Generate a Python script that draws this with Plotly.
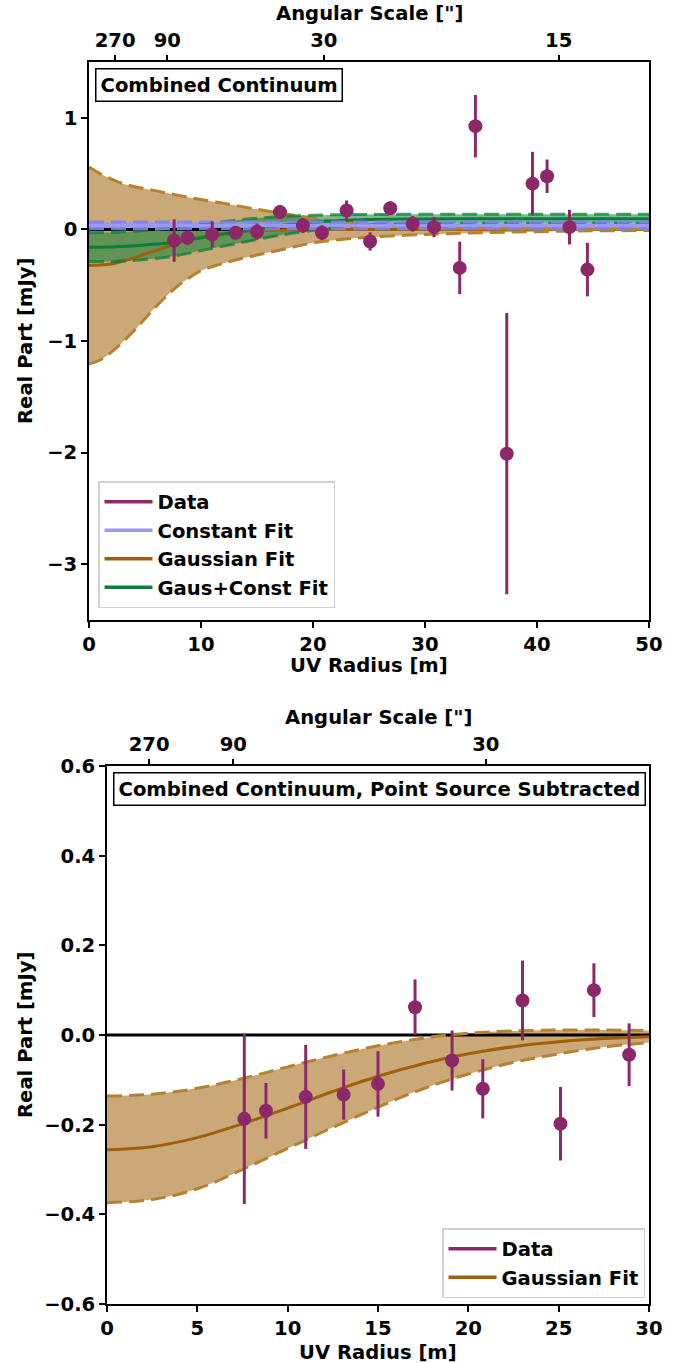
import plotly.graph_objects as go

# ---------------- data ----------------
# Top panel: combined continuum
uv_top = [7.6, 8.8, 11.0, 13.1, 15.0, 17.05, 19.1, 20.8, 23.0, 25.1, 26.9, 28.9,
          30.8, 33.1, 34.5, 37.3, 39.6, 40.9, 42.9, 44.5]
re_top = [-0.10, -0.075, -0.045, -0.03, -0.02, 0.155, 0.035, -0.03, 0.17, -0.108, 0.19, 0.05,
          0.02, -0.345, 0.925, -2.01, 0.41, 0.476, 0.02, -0.36]
err_top = [0.19, 0.062, 0.116, 0.056, 0.073, 0.062, 0.067, 0.066, 0.089, 0.082, 0.06, 0.07,
           0.09, 0.235, 0.28, 1.26, 0.285, 0.15, 0.155, 0.24]

# Constant fit
const_x = [0, 50]
const_mid = [0.036, 0.036]
const_hi = [0.066, 0.066]
const_lo = [0.006, 0.006]

# Gaussian fit (top)
gauss_x = [0, 1, 2, 3, 4, 5, 6, 7, 8, 9, 10, 12.5, 15, 17.5, 20, 22.5, 25, 30, 35, 40, 45, 50]
gauss_mid = [-0.323, -0.32, -0.31, -0.285, -0.255, -0.22, -0.19, -0.155, -0.12, -0.09, -0.07,
             -0.03, -0.011, -0.004, -0.001, 0, 0, 0, 0, 0, 0, 0]
gauss_hi = [0.56, 0.50, 0.45, 0.41, 0.385, 0.365, 0.345, 0.325, 0.305, 0.285, 0.268,
            0.225, 0.18, 0.14, 0.10, 0.07, 0.045, 0.018, 0.008, 0.005, 0.004, 0.003]
gauss_lo = [-1.207, -1.17, -1.10, -1.01, -0.91, -0.80, -0.69, -0.59, -0.50, -0.43, -0.37,
            -0.29, -0.23, -0.175, -0.12, -0.09, -0.07, -0.045, -0.03, -0.02, -0.013, -0.01]

# Gaussian + constant fit
gc_x = [0, 2.5, 5, 7.5, 10, 12.5, 15, 17.5, 20, 22.5, 25, 30, 35, 40, 45, 50]
gc_mid = [-0.16, -0.155, -0.14, -0.115, -0.075, -0.035, 0.005, 0.04, 0.065, 0.08, 0.088,
          0.094, 0.095, 0.095, 0.095, 0.095]
gc_hi = [-0.03, -0.025, -0.01, 0.015, 0.045, 0.075, 0.10, 0.117, 0.127, 0.132, 0.134,
         0.135, 0.135, 0.135, 0.135, 0.135]
gc_lo = [-0.29, -0.285, -0.27, -0.24, -0.19, -0.14, -0.09, -0.045, -0.01, 0.02, 0.038,
         0.052, 0.056, 0.057, 0.057, 0.057]

# Bottom panel: point source subtracted
uv_bot = [7.6, 8.8, 11.0, 13.1, 15.0, 17.05, 19.1, 20.8, 23.0, 25.1, 26.95, 28.9]
re_bot = [-0.187, -0.169, -0.138, -0.133, -0.109, 0.062, -0.057, -0.120, 0.077, -0.198, 0.100, -0.044]
err_bot = [0.19, 0.062, 0.116, 0.056, 0.073, 0.062, 0.067, 0.066, 0.089, 0.082, 0.06, 0.07]

bg_x = [0, 2.5, 5, 7.5, 10, 12.5, 15, 17.5, 20, 22.5, 25, 27.5, 30]
bg_mid = [-0.256, -0.249, -0.229, -0.198, -0.163, -0.126, -0.092, -0.064, -0.042, -0.026, -0.015, -0.008, -0.004]
bg_hi = [-0.136, -0.132, -0.119, -0.097, -0.071, -0.046, -0.024, -0.007, 0.004, 0.009, 0.011, 0.011, 0.010]
bg_lo = [-0.374, -0.367, -0.343, -0.300, -0.253, -0.206, -0.161, -0.120, -0.087, -0.061, -0.042, -0.027, -0.017]

# Angular-scale tick labels (arcsec) and observing wavelength (m)
ang_ticks_top = [270, 90, 30, 15]
ang_ticks_bot = [270, 90, 30]
wavelength_m = 3.05e-3
RAD2ARCSEC = 206265.0

# ---------------- styling ----------------
W, H = 684, 1363
FONT = "DejaVu Sans"
FS = 19.6
C_DATA = "#8c2869"
C_CONST = "#9a9af0"
C_GAUSS = "#a0600a"
C_GAUSS_EDGE = "#b5822f"
F_GAUSS = "rgba(160,96,10,0.55)"
C_GC = "#0b7f3a"
C_GC_EDGE = "rgba(11,127,58,0.75)"
F_GC = "rgba(11,127,58,0.55)"
DASH = "15px,7px"

fig = go.Figure()


def band(x, lo, hi, xa, ya, fill_c, shape="spline"):
    fig.add_trace(go.Scatter(x=x, y=lo, xaxis=xa, yaxis=ya, mode="lines",
                             line=dict(color="rgba(0,0,0,0)", width=0, shape=shape),
                             showlegend=False, hoverinfo="skip"))
    fig.add_trace(go.Scatter(x=x, y=hi, xaxis=xa, yaxis=ya, mode="lines", fill="tonexty",
                             fillcolor=fill_c,
                             line=dict(color="rgba(0,0,0,0)", width=0, shape=shape),
                             showlegend=False, hoverinfo="skip"))


def edges(x, lo, hi, mid, xa, ya, line_c, edge_c, lw=3, shape="spline"):
    fig.add_trace(go.Scatter(x=x, y=mid, xaxis=xa, yaxis=ya, mode="lines",
                             line=dict(color=line_c, width=lw, shape=shape),
                             showlegend=False, hoverinfo="skip"))
    for yy in (lo, hi):
        fig.add_trace(go.Scatter(x=x, y=yy, xaxis=xa, yaxis=ya, mode="lines",
                                 line=dict(color=edge_c, width=lw, dash=DASH, shape=shape),
                                 showlegend=False, hoverinfo="skip"))


# ---- top panel ----
band(gauss_x, gauss_lo, gauss_hi, "x", "y", F_GAUSS)
band(gc_x, gc_lo, gc_hi, "x", "y", F_GC)
band(const_x, const_lo, const_hi, "x", "y", "rgba(150,150,240,0.85)", shape="linear")
fig.add_trace(go.Scatter(x=[0, 50], y=[0, 0], xaxis="x", yaxis="y", mode="lines",
                         line=dict(color="black", width=3), showlegend=False, hoverinfo="skip"))
edges(gauss_x, gauss_lo, gauss_hi, gauss_mid, "x", "y", C_GAUSS, C_GAUSS_EDGE)
edges(gc_x, gc_lo, gc_hi, gc_mid, "x", "y", C_GC, C_GC_EDGE)
edges(const_x, const_lo, const_hi, const_mid, "x", "y", C_CONST, "rgba(130,130,235,0.9)", shape="linear")

fig.add_trace(go.Scatter(x=uv_top, y=re_top, xaxis="x", yaxis="y", mode="markers",
                         marker=dict(color=C_DATA, size=14),
                         error_y=dict(type="data", array=err_top, color=C_DATA, thickness=3, width=0),
                         showlegend=False))

for name, col in [("Data", C_DATA), ("Constant Fit", C_CONST),
                  ("Gaussian Fit", C_GAUSS), ("Gaus+Const Fit", C_GC)]:
    fig.add_trace(go.Scatter(x=[None], y=[None], xaxis="x", yaxis="y", mode="lines",
                             line=dict(color=col, width=3.5), name=name, legend="legend"))

fig.add_trace(go.Scatter(x=[None], y=[None], xaxis="x3", yaxis="y", showlegend=False,
                         hoverinfo="skip"))

# ---- bottom panel ----
band(bg_x, bg_lo, bg_hi, "x2", "y2", F_GAUSS)
fig.add_trace(go.Scatter(x=[0, 30], y=[0, 0], xaxis="x2", yaxis="y2", mode="lines",
                         line=dict(color="black", width=3), showlegend=False, hoverinfo="skip"))
edges(bg_x, bg_lo, bg_hi, bg_mid, "x2", "y2", C_GAUSS, C_GAUSS_EDGE)
fig.add_trace(go.Scatter(x=uv_bot, y=re_bot, xaxis="x2", yaxis="y2", mode="markers",
                         marker=dict(color=C_DATA, size=14),
                         error_y=dict(type="data", array=err_bot, color=C_DATA, thickness=3, width=0),
                         showlegend=False))
for name, col in [("Data", C_DATA), ("Gaussian Fit", C_GAUSS)]:
    fig.add_trace(go.Scatter(x=[None], y=[None], xaxis="x2", yaxis="y2", mode="lines",
                             line=dict(color=col, width=3.5), name=name, legend="legend2"))
fig.add_trace(go.Scatter(x=[None], y=[None], xaxis="x4", yaxis="y2", showlegend=False,
                         hoverinfo="skip"))

# ---------------- layout ----------------
tf = dict(family=FONT, size=FS, color="black", weight="bold")


def px_x(p):
    return p / W


def px_y(p):
    return 1 - p / H


axis_common = dict(showline=True, linecolor="black", linewidth=1.6, mirror=True,
                   ticks="outside", ticklen=6, tickwidth=1.5, tickcolor="black",
                   showgrid=False, zeroline=False, tickfont=tf, automargin=False)
top_axis_common = dict(side="top", ticks="outside", ticklen=6, tickwidth=1.5, tickcolor="black",
                       showline=False, showgrid=False, zeroline=False, tickfont=tf,
                       automargin=False)

ang_vals_top = [wavelength_m * RAD2ARCSEC / a for a in ang_ticks_top]
ang_vals_bot = [wavelength_m * RAD2ARCSEC / a for a in ang_ticks_bot]

fig.update_layout(
    width=W, height=H,
    margin=dict(l=0, r=0, t=0, b=0),
    paper_bgcolor="white", plot_bgcolor="white",
    font=dict(family=FONT, size=FS, color="black", weight="bold"),
    xaxis=dict(domain=[px_x(89), px_x(649)], range=[0, 50], anchor="y",
               tickvals=[0, 10, 20, 30, 40, 50], **axis_common),
    yaxis=dict(domain=[px_y(620), px_y(62)], range=[-3.5, 1.5], anchor="x",
               tickvals=[-3, -2, -1, 0, 1], **axis_common),
    xaxis3=dict(overlaying="x", anchor="y", range=[0, 50],
                tickvals=ang_vals_top, ticktext=[str(a) for a in ang_ticks_top],
                **top_axis_common),
    xaxis2=dict(domain=[px_x(107), px_x(649)], range=[0, 30], anchor="y2",
                tickvals=[0, 5, 10, 15, 20, 25, 30], **axis_common),
    yaxis2=dict(domain=[px_y(1304), px_y(766)], range=[-0.6, 0.6], anchor="x2",
                tickvals=[-0.6, -0.4, -0.2, 0.0, 0.2, 0.4, 0.6], tickformat=".1f",
                **axis_common),
    xaxis4=dict(overlaying="x2", anchor="y2", range=[0, 30],
                tickvals=ang_vals_bot, ticktext=[str(a) for a in ang_ticks_bot],
                **top_axis_common),
    legend=dict(x=px_x(98), y=px_y(608), xanchor="left", yanchor="bottom",
                bgcolor="white", bordercolor="#d0d0d0", borderwidth=1.5,
                font=tf, itemwidth=48, tracegroupgap=0, traceorder="normal"),
    legend2=dict(x=px_x(645), y=px_y(1298), xanchor="right", yanchor="bottom",
                 bgcolor="white", bordercolor="#d0d0d0", borderwidth=1.5,
                 font=tf, itemwidth=48, tracegroupgap=0, traceorder="normal"),
    showlegend=True,
)

ann = []
ann.append(dict(text="Angular Scale [\"]", x=px_x(369), y=px_y(14), xref="paper", yref="paper",
                xanchor="center", yanchor="middle", showarrow=False, font=tf))
ann.append(dict(text="UV Radius [m]", x=px_x(369), y=px_y(665), xref="paper", yref="paper",
                xanchor="center", yanchor="middle", showarrow=False, font=tf))
ann.append(dict(text="Real Part [mJy]", x=px_x(25), y=px_y(341), xref="paper", yref="paper",
                xanchor="center", yanchor="middle", textangle=-90, showarrow=False, font=tf))
ann.append(dict(text="Angular Scale [\"]", x=px_x(378), y=px_y(718), xref="paper", yref="paper",
                xanchor="center", yanchor="middle", showarrow=False, font=tf))
ann.append(dict(text="UV Radius [m]", x=px_x(378), y=px_y(1352), xref="paper", yref="paper",
                xanchor="center", yanchor="middle", showarrow=False, font=tf))
ann.append(dict(text="Real Part [mJy]", x=px_x(25), y=px_y(1035), xref="paper", yref="paper",
                xanchor="center", yanchor="middle", textangle=-90, showarrow=False, font=tf))
ann.append(dict(text="Combined Continuum", x=px_x(95), y=px_y(68), xref="paper", yref="paper",
                xanchor="left", yanchor="top", showarrow=False, font=tf,
                bgcolor="white", bordercolor="black", borderwidth=1.5, borderpad=4))
ann.append(dict(text="Combined Continuum, Point Source Subtracted", x=px_x(113), y=px_y(772),
                xref="paper", yref="paper", xanchor="left", yanchor="top", showarrow=False, font=tf,
                bgcolor="white", bordercolor="black", borderwidth=1.5, borderpad=4))
fig.update_layout(annotations=ann)

fig.write_html("out.html")
